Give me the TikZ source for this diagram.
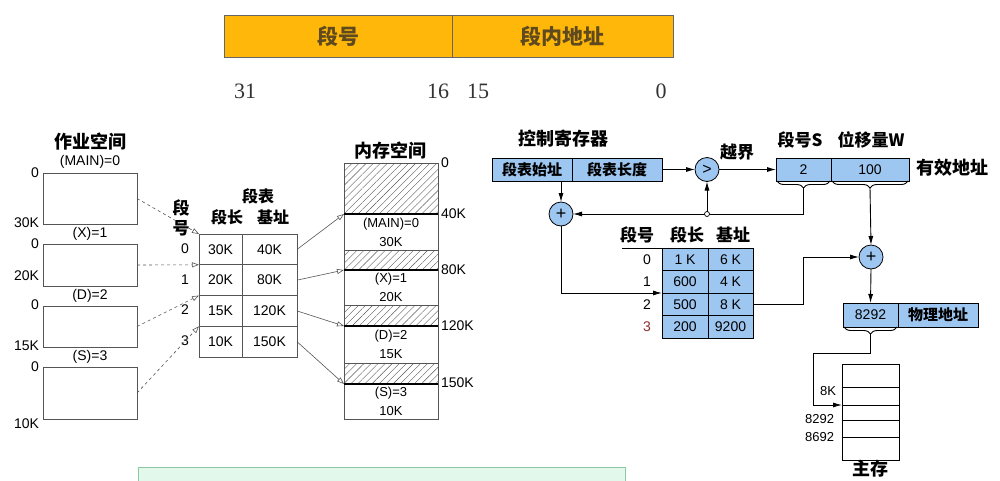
\documentclass[tikz,border=0pt]{standalone}
\usepackage{fontspec}
\setmainfont{Liberation Sans}
\newfontfamily\cjk{Noto Sans CJK SC}
\newfontfamily\serifnum{Liberation Serif}
\usetikzlibrary{arrows.meta,patterns.meta,decorations.pathreplacing,positioning}
\definecolor{barorange}{HTML}{FFB80A}
\definecolor{barbrown}{HTML}{5E4A1E}
\definecolor{regblue}{HTML}{9DC6F0}
\definecolor{linegray}{HTML}{555555}
\definecolor{mintfill}{HTML}{E2F8EA}
\definecolor{mintline}{HTML}{8CC8A4}
\definecolor{rowred}{HTML}{8A2E2E}
\newcommand\fsz[1]{\fontsize{#1}{#1}\selectfont}

\begin{document}
\begin{tikzpicture}[
  x=1pt, y=-1pt,
  every node/.style={inner sep=0pt, outer sep=0pt},
  cn/.style={font=\cjk\bfseries\fsz{#1}},
  lat/.style={font=\fsz{#1}},
  field/.style={draw=black!60, line width=0.8pt, fill=barorange, text=barbrown, minimum height=42pt, font=\cjk\bfseries\fsz{21}},
  bitno/.style={font=\serifnum\fsz{22}, text=black!80},
  jobbox/.style={draw=linegray, line width=0.7pt, minimum width=94pt},
  cell/.style={draw=linegray, line width=0.7pt, font=\fsz{14}, minimum height=30.75pt},
  hole/.style={draw=linegray, line width=0.7pt, pattern={Lines[angle=45,distance=5pt,line width=0.4pt]}, pattern color=linegray, minimum width=94pt},
  segm/.style={draw=linegray, line width=0.7pt, minimum width=94pt, align=center, font=\fontsize{13}{19}\selectfont},
  bluebox/.style={draw, line width=0.8pt, fill=regblue, minimum height=23pt},
  bcell/.style={draw, line width=0.8pt, fill=regblue, minimum height=22.5pt, font=\fsz{14}},
  opcirc/.style={circle, draw, line width=0.8pt, fill=regblue, minimum size=24pt},
  memrow/.style={draw, line width=0.8pt, minimum width=57pt},
  dasharrow/.style={-{Triangle[open,length=7pt,width=5pt]}, dashed, linegray, line width=0.6pt},
  grayarrow/.style={-{Triangle[open,length=7pt,width=5pt]}, linegray, line width=0.6pt},
  arrow/.style={-{Latex[length=9pt,width=5pt]}, line width=0.9pt},
  brc/.style={decorate, decoration={brace, mirror, amplitude=7pt}, line width=0.9pt}
]
\useasboundingbox (0,0) rectangle (1000,480);

\node[field, minimum width=228pt] (segfield) at (338,36) {段号};
\node[field, minimum width=221pt, right=0pt of segfield] (offfield) {段内地址};
\node[bitno] (b31) at (245,91) {31};
\node[bitno] (b16) at (438,91) {16};
\node[bitno] (b15) at (478,91) {15};
\node[bitno] (b0) at (661,91) {0};

\node[cn=18] (jobtitle) at (90,142) {作业空间};
\node[lat=14] (jname0) at (90,162) {(MAIN)=0};
\node[jobbox, minimum height=51pt] (job0) at (90,198.5) {};
\node[lat=14] (jname1) at (90,234) {(X)=1};
\node[jobbox, minimum height=42pt] (job1) at (90,265) {};
\node[lat=14] (jname2) at (90,296) {(D)=2};
\node[jobbox, minimum height=41pt] (job2) at (90,326.5) {};
\node[lat=14] (jname3) at (90,357) {(S)=3};
\node[jobbox, minimum height=52pt] (job3) at (90,393) {};
\node[lat=14, anchor=east] (jtop0) at (39,173) {0};
\node[lat=14, anchor=east] (jend0) at (39,223) {30K};
\node[lat=14, anchor=east] (jtop1) at (39,244) {0};
\node[lat=14, anchor=east] (jend1) at (39,276) {20K};
\node[lat=14, anchor=east] (jtop2) at (39,305) {0};
\node[lat=14, anchor=east] (jend2) at (39,346) {15K};
\node[lat=14, anchor=east] (jtop3) at (39,367) {0};
\node[lat=14, anchor=east] (jend3) at (39,424) {10K};

\node[cn=16] (lt-title) at (258,196) {段表};
\node[cn=16] (lt-head-len) at (227,217) {段长};
\node[cn=16] (lt-head-base) at (273,217) {基址};
\node[cn=17] (lt-side-a) at (181,208) {段};
\node[cn=17] (lt-side-b) at (181,228) {号};
\foreach \i/\len/\base in {0/30K/40K,1/20K/80K,2/15K/120K,3/10K/150K}{
  \node[cell, minimum width=43pt] (lt-len-\i) at (220.5,{249.4+30.75*\i}) {\len};
  \node[cell, minimum width=55pt, right=0pt of lt-len-\i] (lt-base-\i) {\base};
  \node[lat=14] (lt-no-\i) at (185,{248.5+30.75*\i}) {\i};
}
\draw[dasharrow] (job0.east) -- (lt-len-0.north west);
\draw[dasharrow] (job1.east) -- (lt-len-1.north west);
\draw[dasharrow] (job2.east) -- (lt-len-2.north west);
\draw[dasharrow] (job3.east) -- (lt-len-3.north west);

\node[cn=18] (memtitle) at (390,151) {内存空间};
\node[hole, minimum height=51pt] (hole0) at (391,188.5) {};
\node[segm, minimum height=36pt] (seg0) at (391,232) {(MAIN)=0\\30K};
\node[hole, minimum height=20pt] (hole1) at (391,260) {};
\node[segm, minimum height=35pt] (seg1) at (391,287.5) {(X)=1\\20K};
\node[hole, minimum height=21pt] (hole2) at (391,315.5) {};
\node[segm, minimum height=37pt] (seg2) at (391,344.5) {(D)=2\\15K};
\node[hole, minimum height=21pt] (hole3) at (391,373.5) {};
\node[segm, minimum height=35pt] (seg3) at (391,401.5) {(S)=3\\10K};
\foreach \i/\addr/\y in {0/40K/214,1/80K/270,2/120K/326,3/150K/383}{
  \draw[line width=1.2pt] (seg\i.north west) -- (seg\i.north east);
  \node[lat=14, anchor=west] (maddr-\i) at (441,\y) {\addr};
  \draw[grayarrow] (lt-base-\i.east) -- (seg\i.north west);
}
\node[lat=14, anchor=west] (maddr-top) at (441,163) {0};

\node[cn=18] (ctrltitle) at (563,139) {控制寄存器};
\node[bluebox, minimum width=80pt, cn=15] (regstart) at (532,169.5) {段表始址};
\node[bluebox, minimum width=90pt, cn=15, right=0pt of regstart] (reglen) {段表长度};
\node[opcirc, lat=16] (cmp) at (707,169.5) {>};
\node[opcirc, lat=18] (plus1) at (561,214) {+};
\node[cn=17] (overflow) at (737,152) {越界};

\node[cn=17] (eas-lab) at (800,140) {段号S};
\node[cn=17] (eaw-lab) at (871,140) {位移量W};
\node[bluebox, minimum width=55pt, lat=14] (eas) at (803.5,169.5) {2};
\node[bluebox, minimum width=78pt, lat=14, right=0pt of eas] (eaw) {100};
\node[cn=18, anchor=west] (ealab) at (916,168) {有效地址};
\draw[brc] ([xshift=1pt]eas.south west) -- ([xshift=-1pt]eas.south east);
\draw[brc] ([xshift=1pt]eaw.south west) -- ([xshift=-1pt]eaw.south east);
\coordinate (sTip) at ([yshift=-7pt]eas.south);
\coordinate (wTip) at ([yshift=-7pt]eaw.south);

\node[opcirc, lat=18] (plus2) at (871,257) {+};
\node[bluebox, minimum width=55pt, minimum height=24pt, lat=14] (phval) at (870.5,315) {8292};
\node[bluebox, minimum width=80pt, minimum height=24pt, cn=15, right=0pt of phval] (phname) {物理地址};
\draw[brc] ([xshift=1pt]phval.south west) -- ([xshift=-1pt]phval.south east);
\coordinate (phTip) at ([yshift=-7pt]phval.south);

\node[cn=17] (rt-h-no) at (637,235) {段号};
\node[cn=17] (rt-h-len) at (687,235) {段长};
\node[cn=17] (rt-h-base) at (733,235) {基址};
\foreach \i/\len/\base in {0/1 K/6 K,1/600/4 K,2/500/8 K,3/200/9200}{
  \node[bcell, minimum width=46pt] (rt-len-\i) at (685,{259.25+22.5*\i}) {\len};
  \node[bcell, minimum width=45pt, right=0pt of rt-len-\i] (rt-base-\i) {\base};
}
\foreach \i/\c in {0/black,1/black,2/black,3/rowred}{
  \node[lat=14, text=\c] (rt-no-\i) at (647,{259.25+22.5*\i}) {\i};
}
\draw[line width=0.9pt] ([xshift=-40pt]rt-len-0.north west) -- (rt-len-0.north west);

\node[memrow, minimum height=23pt] (mm-0) at (870.5,375.5) {};
\node[memrow, minimum height=18pt, below=0pt of mm-0] (mm-1) {};
\node[memrow, minimum height=15pt, below=0pt of mm-1] (mm-2) {};
\node[memrow, minimum height=17pt, below=0pt of mm-2] (mm-3) {};
\node[memrow, minimum height=23pt, below=0pt of mm-3] (mm-4) {};
\node[lat=13, anchor=east] (mm-l0) at (836,391) {8K};
\node[lat=13, anchor=east] (mm-l1) at (834,419) {8292};
\node[lat=13, anchor=east] (mm-l2) at (834,437) {8692};
\node[cn=18] (mmtitle) at (870,469) {主存};
\coordinate (mmbend) at (813,353);

\draw[arrow] (reglen.east) -- (cmp.west);
\draw[arrow] (cmp.east) -- (eas.west);
\draw[arrow] (plus1.north |- regstart.south) -- (plus1.north);
\draw[arrow] (sTip) |- (plus1.east);
\node[circle, draw, fill=white, line width=0.7pt, minimum size=5pt] (junc) at (cmp |- plus1) {};
\draw[arrow] (junc.north) -- (cmp.south);
\draw[arrow] (wTip) -- (plus2.north);
\draw[arrow] (plus1.south) |- (rt-len-2.north west);
\draw[arrow] (rt-base-2.east) -- (sTip |- rt-base-2.east) |- (plus2.west);
\draw[arrow] (plus2.south) -- (phval.north);
\draw[arrow] (phTip) |- (mmbend) |- (mm-1.south west);

\draw[mintline, fill=mintfill, line width=0.8pt] (138,467) rectangle (625,483);
\end{tikzpicture}
\end{document}
